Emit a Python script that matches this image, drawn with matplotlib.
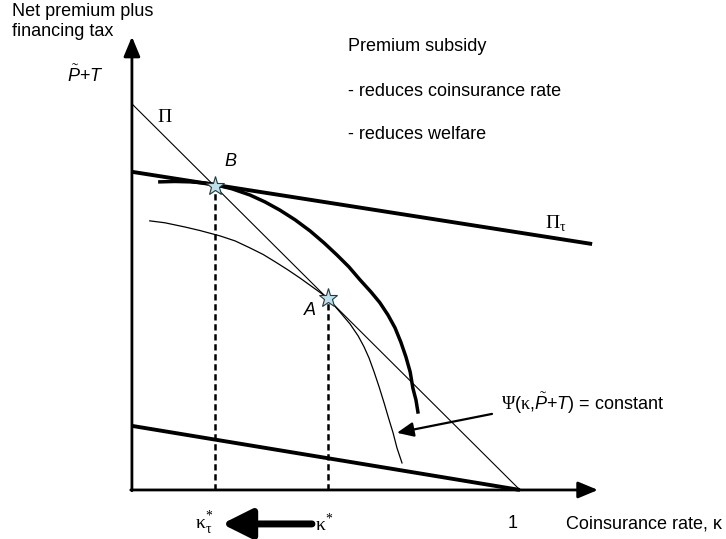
import matplotlib.pyplot as plt

plt.rcParams['font.family'] = ['Liberation Sans', 'DejaVu Sans']
plt.rcParams['mathtext.fontset'] = 'custom'
plt.rcParams['mathtext.rm'] = 'Liberation Serif'
plt.rcParams['mathtext.it'] = 'Liberation Sans:italic'
plt.rcParams['mathtext.sf'] = 'Liberation Sans'

# lines (kappa on x, net premium + tax on y)
pi_x = [0.0, 1.0]
pi_y = [1.0, 0.0]
pi_tau_x = [0.0, 1.186]
pi_tau_y = [0.824, 0.637]
low_x = [0.0, 1.0]
low_y = [0.166, 0.0]

# indifference curves
thick_x = [0.072, 0.111, 0.150, 0.188, 0.217, 0.258, 0.304, 0.343, 0.381, 0.420,
           0.459, 0.495, 0.528, 0.559, 0.588, 0.616, 0.639, 0.660, 0.678, 0.693,
           0.706, 0.717, 0.724, 0.732, 0.737]
thick_y = [0.798, 0.799, 0.798, 0.795, 0.790, 0.780, 0.764, 0.746, 0.725, 0.700,
           0.671, 0.640, 0.609, 0.578, 0.544, 0.513, 0.485, 0.453, 0.420, 0.383,
           0.345, 0.306, 0.264, 0.233, 0.202]
thin_x = [0.046, 0.085, 0.137, 0.175, 0.227, 0.266, 0.304, 0.338, 0.369, 0.402,
          0.433, 0.469, 0.505, 0.536, 0.562, 0.583, 0.598, 0.611, 0.624, 0.637,
          0.650, 0.662, 0.673, 0.683, 0.696]
thin_y = [0.697, 0.692, 0.681, 0.672, 0.658, 0.645, 0.627, 0.610, 0.591, 0.570,
          0.549, 0.523, 0.497, 0.461, 0.430, 0.399, 0.371, 0.342, 0.306, 0.267,
          0.225, 0.184, 0.148, 0.109, 0.070]

# equilibrium points
pt_B = (0.214, 0.788)
pt_A = (0.505, 0.497)

fig = plt.figure(figsize=(7.26, 5.39), dpi=100)
ax = fig.add_axes([0, 0, 1, 1])
ax.set_xlim(-0.340, 1.531)
ax.set_ylim(-0.127, 1.269)
ax.axis('off')

# axes with arrows
ax.annotate('', xy=(0, 1.174), xytext=(0, -0.002),
            arrowprops=dict(arrowstyle='-|>,head_length=0.6,head_width=0.25',
                            lw=2, color='black', shrinkA=0, shrinkB=0, mutation_scale=20))
ax.annotate('', xy=(1.201, 0), xytext=(-0.003, 0),
            arrowprops=dict(arrowstyle='-|>,head_length=0.6,head_width=0.25',
                            lw=2, color='black', shrinkA=0, shrinkB=0, mutation_scale=20))

ax.plot(pi_x, pi_y, color='black', lw=0.8)
ax.plot(pi_tau_x, pi_tau_y, color='black', lw=2.8, solid_capstyle='butt')
ax.plot(low_x, low_y, color='black', lw=2.8, solid_capstyle='butt')
ax.plot(thick_x, thick_y, color='black', lw=2.5, solid_joinstyle='round')
ax.plot(thin_x, thin_y, color='black', lw=0.9, solid_joinstyle='round')

# dashed drop lines
ax.plot([pt_B[0], pt_B[0]], [0, pt_B[1]], color='black', lw=1.8, ls=(0, (2.5, 1.5)))
ax.plot([pt_A[0], pt_A[0]], [0, pt_A[1]], color='black', lw=1.8, ls=(0, (2.5, 1.5)))

ax.plot(*pt_B, marker='*', ms=14, mfc='#bfe0ea', mec='#1f3a40', mew=0.8, zorder=5)
ax.plot(*pt_A, marker='*', ms=14, mfc='#bfe0ea', mec='#1f3a40', mew=0.8, zorder=5)

fs = 13
gs = 14
ax.text(-0.309, 1.238, 'Net premium plus', fontsize=fs, va='center', ha='left')
ax.text(-0.309, 1.187, 'financing tax', fontsize=fs, va='center', ha='left')
ax.text(-0.168, 1.073, r'$\tilde{P}$+$T$', fontsize=fs, va='center', ha='left')

ax.text(0.085, 0.964, 'Π', fontsize=gs, family='Liberation Serif', va='center', ha='center')
ax.text(1.093, 0.692, r'$\mathrm{\Pi}_{\mathrm{\tau}}$', fontsize=gs, va='center', ha='center')
ax.text(0.253, 0.850, 'B', fontsize=fs, style='italic', va='center', ha='center')
ax.text(0.459, 0.464, 'A', fontsize=fs, style='italic', va='center', ha='center')

ax.text(0.557, 1.148, 'Premium subsidy', fontsize=fs, va='center', ha='left')
ax.text(0.557, 1.031, '- reduces coinsurance rate', fontsize=fs, va='center', ha='left')
ax.text(0.557, 0.920, '- reduces welfare', fontsize=fs, va='center', ha='left')

ax.annotate('', xy=(0.683, 0.148), xytext=(0.928, 0.197),
            arrowprops=dict(arrowstyle='-|>,head_length=0.5,head_width=0.22',
                            lw=1.6, color='black', shrinkA=0, shrinkB=0, mutation_scale=20))
ax.text(0.951, 0.225, r'$\mathrm{\Psi}$(' + r'$\mathrm{\kappa}$,' + r'$\tilde{P}$+$T$) = constant',
        fontsize=fs, va='center', ha='left')

# bottom labels
ax.text(0.186, -0.085, r'$\mathrm{\kappa}_{\mathrm{\tau}}^{\mathrm{*}}$', fontsize=gs, va='center', ha='center')
ax.text(0.495, -0.085, r'$\mathrm{\kappa}^{\mathrm{*}}$', fontsize=gs, va='center', ha='center')
ax.annotate('', xy=(0.232, -0.088), xytext=(0.464, -0.088),
            arrowprops=dict(arrowstyle='-|>,head_length=0.9,head_width=0.45',
                            lw=5, color='black', shrinkA=0, shrinkB=0, mutation_scale=20))
ax.text(0.982, -0.088, '1', fontsize=fs, va='center', ha='center')
ax.text(1.119, -0.088, 'Coinsurance rate, κ', fontsize=fs, va='center', ha='left')

fig.savefig('out.png', dpi=100)
